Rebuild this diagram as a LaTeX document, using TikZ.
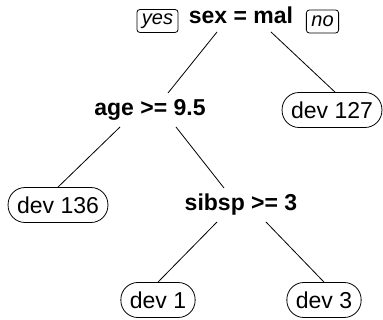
\documentclass[tikz,border=0pt]{standalone}
\usepackage{fontspec}
\setmainfont{Liberation Sans}
\usetikzlibrary{calc}
\begin{document}
\begin{tikzpicture}[x=1pt, y=-1pt, line width=0.8pt,
        every node/.style={font=\fontsize{23}{27}\selectfont, align=center},
        split/.style={font=\fontsize{23}{27}\selectfont\bfseries},
        leaf/.style={draw, rounded corners=17pt, minimum height=35pt, inner xsep=9pt, inner ysep=0pt},
        branch/.style={draw, rounded corners=3pt, minimum height=23pt, inner xsep=5pt, inner ysep=0pt, font=\fontsize{20}{24}\selectfont\itshape}]
        \useasboundingbox (0,0) rectangle (383,320);

        \node[split] (sex) at (241,15) {sex = mal};
        \node[branch] (yes) at (157.5,21) {yes};
        \node[branch] (no) at (322.5,21.5) {no};

        \node[split] (age) at (150,110) {age >= 9.5};
        \node[leaf] (dev127) at (332,110) {dev 127};

        \node[leaf] (dev136) at (58,205) {dev 136};
        \node[split] (sibsp) at (241,205) {sibsp >= 3};

        \node[leaf] (dev1) at (158,300) {dev 1};
        \node[leaf] (dev3) at (324,300) {dev 3};

        \draw ($(sex)+(-24,17)$) -- ($(age)+(18,-17)$);
        \draw ($(sex)+(30,17)$) -- ($(dev127.north)+(3,0)$);
        \draw ($(age)+(-30,17)$) -- (dev136.north);
        \draw ($(age)+(26,17)$) -- ($(sibsp)+(-17,-17)$);
        \draw ($(sibsp)+(-24,17)$) -- (dev1.north);
        \draw ($(sibsp)+(25,17)$) -- (dev3.north);
    \end{tikzpicture}
\end{document}
